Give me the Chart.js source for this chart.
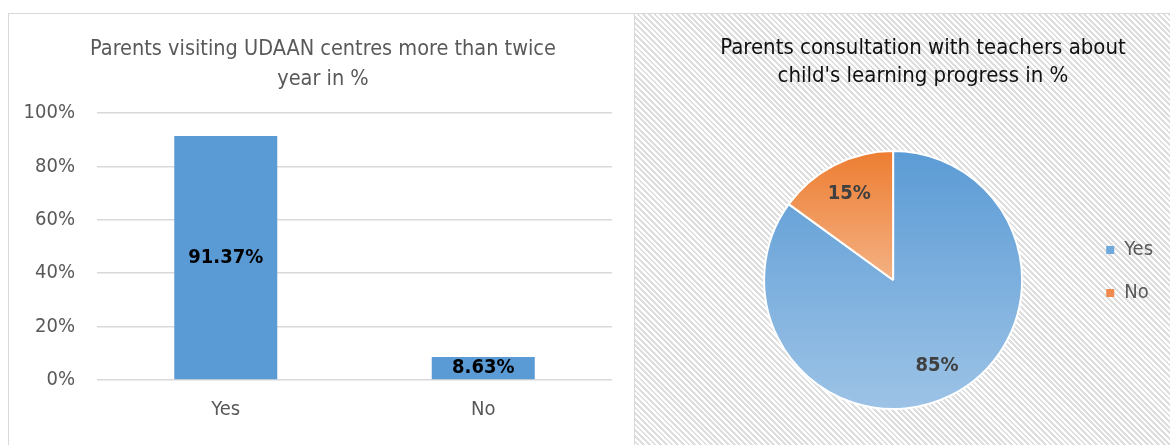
<!DOCTYPE html>
<html lang="en">
<head>
<meta charset="UTF-8">
<title>UDAAN parents survey</title>
<script src="https://cdn.jsdelivr.net/npm/chart.js"></script>
<style>
  body { margin: 0; background: #fff; width: 1170px; height: 445px; overflow: hidden; position: relative; }
  .panel { position: absolute; top: 13px; height: 445px; box-sizing: border-box; border: 1px solid #d9d9d9; }
  #left { left: 8px; width: 627px; background: #fff; }
  #right { left: 634px; width: 545px; background: repeating-linear-gradient(45deg, #fff 0 2px, #dedede 2px 4px); }
  .panel canvas { position: absolute; left: 0; top: 0; }
  .chart-title {
    position: absolute; width: 500px; text-align: center;
    font-family: "Liberation Sans Narrow", "DejaVu Sans Condensed", Roboto, sans-serif;
  }
  #visitTitle { left: 64px; top: 19px; color: #595959; font-size: 21.5px; line-height: 30px; }
  #consultTitle { left: 38px; top: 19px; color: #111; font-size: 22px; line-height: 28px; }
</style>
</head>
<body>
<div class="panel" id="left">
  <canvas id="visits" width="625" height="431"></canvas>
  <div class="chart-title" id="visitTitle"></div>
</div>
<div class="panel" id="right">
  <canvas id="consult" width="535" height="431"></canvas>
  <div class="chart-title" id="consultTitle"></div>
</div>

<script>
const FONT = '"Liberation Sans Narrow", "DejaVu Sans Condensed", Roboto, sans-serif';

// bar chart: parents visiting centres
const visitCategories = ['Yes', 'No'];
const visitShare = [91.37, 8.63];
const visitTitle = ['Parents visiting UDAAN centres more than twice', 'year in %'];

// pie chart: consultation with teachers
const consultLabels = ['Yes', 'No'];
const consultShare = [85, 15];
const consultTitle = ['Parents consultation with teachers about', "child's learning progress in %"];

const SLICE_TOP = ['#5b9bd5', '#ed7d31'];
const SLICE_BOTTOM = ['#9dc3e6', '#f4b183'];
const LEGEND_COLORS = ['#6fa8dc', '#f08a4e'];

document.getElementById('visitTitle').innerHTML = visitTitle.join('<br>');
document.getElementById('consultTitle').innerHTML = consultTitle.join('<br>');

// writes each value inside its bar / slice
const valueLabels = {
  id: 'valueLabels',
  afterDatasetsDraw(chart, args, opts) {
    const ctx = chart.ctx;
    const values = chart.data.datasets[0].data;
    ctx.save();
    ctx.font = 'bold 20px ' + FONT;
    ctx.fillStyle = opts.color;
    ctx.textAlign = 'center';
    ctx.textBaseline = 'middle';
    chart.getDatasetMeta(0).data.forEach((el, i) => {
      let x, y;
      if (chart.config.type === 'bar') {
        x = el.x;
        y = (el.y + el.base) / 2;
      } else {
        const mid = (el.startAngle + el.endAngle) / 2;
        const r = el.outerRadius * opts.radius;
        x = el.x + Math.cos(mid) * r;
        y = el.y + Math.sin(mid) * r;
      }
      ctx.fillText(opts.format(values[i]), x, y);
    });
    ctx.restore();
  }
};

new Chart(document.getElementById('visits'), {
  type: 'bar',
  data: {
    labels: visitCategories,
    datasets: [{
      data: visitShare,
      backgroundColor: '#5b9bd5',
      barPercentage: 0.4,
      categoryPercentage: 1
    }]
  },
  plugins: [valueLabels],
  options: {
    responsive: false,
    animation: false,
    layout: { padding: { left: 10, right: 22, top: 99, bottom: 5 } },
    plugins: {
      legend: { display: false },
      tooltip: { enabled: false },
      valueLabels: { color: '#000', radius: 0, format: v => v.toFixed(2) + '%' }
    },
    scales: {
      y: {
        min: 0, max: 100,
        ticks: { stepSize: 20, color: '#595959', padding: 22, font: { family: FONT, size: 20 }, callback: v => v + '%' },
        grid: { color: '#d9d9d9', lineWidth: 1.5, drawTicks: false },
        border: { display: false },
        afterFit(scale) { scale.width = 78; }
      },
      x: {
        ticks: { color: '#595959', padding: 18, font: { family: FONT, size: 20 } },
        grid: { display: false, drawTicks: false },
        border: { display: false },
        afterFit(scale) { scale.height = 60; }
      }
    }
  }
});

// each slice gets its own top-to-bottom gradient
function sliceFill(c) {
  const i = c.dataIndex;
  const area = c.chart.chartArea;
  if (!area) return SLICE_TOP[i];
  const cy = (area.top + area.bottom) / 2;
  const r = Math.min(area.width, area.height) / 2;
  const g = c.chart.ctx.createLinearGradient(0, cy - r, 0, i === 0 ? cy + r : cy);
  g.addColorStop(0, SLICE_TOP[i]);
  g.addColorStop(1, SLICE_BOTTOM[i]);
  return g;
}

new Chart(document.getElementById('consult'), {
  type: 'pie',
  data: {
    labels: consultLabels,
    datasets: [{
      data: consultShare,
      backgroundColor: sliceFill,
      borderColor: '#fff',
      borderWidth: 2
    }]
  },
  plugins: [valueLabels],
  options: {
    responsive: false,
    animation: false,
    layout: { padding: { left: 68, right: 7, top: 136, bottom: 35 } },
    plugins: {
      tooltip: { enabled: false },
      legend: {
        position: 'right',
        align: 'start',
        // empty title block pushes the entries down beside the pie
        title: { display: true, text: '', font: { size: 10, lineHeight: 1 }, padding: { top: 57, bottom: 0 } },
        labels: {
          boxWidth: 8, boxHeight: 8, padding: 23,
          color: '#595959',
          font: { family: FONT, size: 20 },
          generateLabels(chart) {
            const items = Chart.overrides.pie.plugins.legend.labels.generateLabels(chart);
            items.forEach((it, i) => { it.fillStyle = LEGEND_COLORS[i]; it.lineWidth = 0; });
            return items;
          }
        }
      },
      valueLabels: { color: '#404040', radius: 0.75, format: v => v + '%' }
    }
  }
});
</script>
</body>
</html>
